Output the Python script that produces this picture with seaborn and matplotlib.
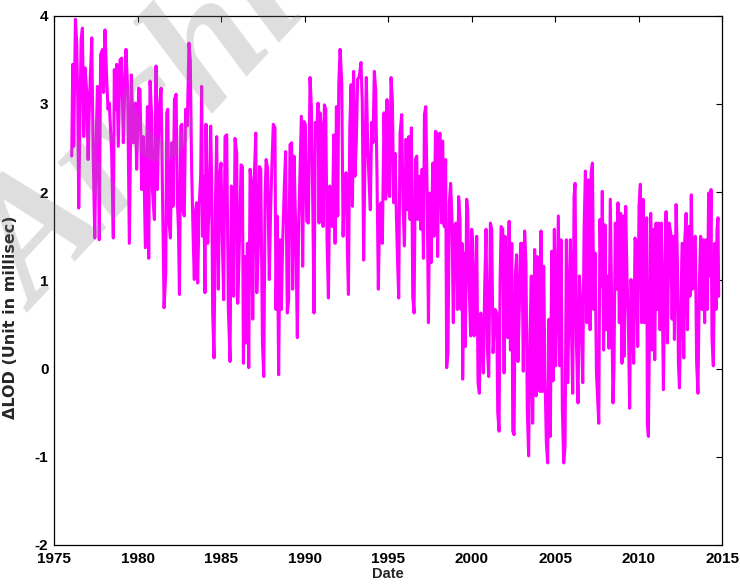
import numpy as np
import pandas as pd
import matplotlib
matplotlib.use("Agg")
import matplotlib.pyplot as plt
import seaborn as sns

# Length-of-day excess (ms), 1976-1985
years_a = [1976.06, 1976.12, 1976.18, 1976.28, 1976.36, 1976.42, 1976.48, 1976.56, 1976.62, 1976.70,
           1976.78, 1976.86, 1976.96, 1977.04, 1977.14, 1977.26, 1977.34, 1977.44, 1977.52, 1977.60,
           1977.66, 1977.71, 1977.79, 1977.91, 1977.97, 1978.05, 1978.15, 1978.23, 1978.31, 1978.45,
           1978.55, 1978.61, 1978.69, 1978.75, 1978.85, 1978.95, 1979.05, 1979.15, 1979.23, 1979.31,
           1979.41, 1979.51, 1979.63, 1979.75, 1979.87, 1979.95, 1980.07, 1980.15, 1980.25, 1980.35,
           1980.47, 1980.59, 1980.67,
           1980.75, 1980.85, 1980.89, 1981.01, 1981.11, 1981.19, 1981.29, 1981.41, 1981.49, 1981.59,
           1981.69, 1981.75, 1981.81, 1981.89, 1981.97, 1982.05, 1982.13, 1982.21, 1982.31, 1982.39,
           1982.45, 1982.51, 1982.59, 1982.65, 1982.72, 1982.80, 1982.88, 1982.98, 1983.08, 1983.16,
           1983.24, 1983.34, 1983.40, 1983.48, 1983.54, 1983.60, 1983.70, 1983.78, 1983.84, 1983.90,
           1983.96, 1984.04, 1984.10, 1984.20, 1984.28, 1984.38, 1984.44, 1984.50, 1984.58, 1984.66,
           1984.74, 1984.84, 1984.92, 1985.00, 1985.08, 1985.16, 1985.24, 1985.34, 1985.44, 1985.54,
           1985.62, 1985.70, 1985.76, 1985.84]
lod_a = [2.41, 3.45, 2.52, 3.96, 3.69, 3.07, 1.82, 2.94, 3.73, 3.86,
         2.63, 3.41, 3.13, 2.37, 3.13, 3.75, 2.48, 1.48, 2.56, 3.20,
         2.44, 1.46, 3.56, 3.62, 3.13, 3.84, 3.31, 2.94, 3.01, 2.44,
         1.48, 3.39, 2.94, 3.45, 2.52, 3.50, 3.52, 2.56, 3.13, 3.62,
         3.16, 1.42, 3.33, 2.56, 3.01, 2.26, 3.18, 3.16, 2.03, 2.63,
         1.37, 2.97, 1.25,
         3.26, 2.86, 2.03, 1.69, 3.43, 2.03, 2.94, 3.18, 2.10, 0.69,
         1.08, 2.90, 2.94, 1.65, 1.48, 2.56, 1.84, 3.05, 3.11, 1.88,
         1.58, 0.84, 2.75, 2.77, 1.80, 1.73, 2.94, 2.75, 3.69, 3.50,
         2.26, 1.42, 1.01, 1.80, 1.88, 0.97, 1.88, 2.18, 3.20, 1.50,
         2.18, 0.86, 2.77, 1.42, 1.80, 2.75, 2.14, 0.63, 0.12, 1.80,
         2.63, 0.90, 2.18, 2.33, 1.42, 0.78, 2.63, 2.65, 0.67, 0.08,
         2.07, 2.03, 0.82, 2.61]

# 1986-1995
years_b = [1985.94, 1986.00, 1986.10, 1986.20, 1986.28, 1986.34, 1986.42, 1986.50, 1986.58, 1986.66,
           1986.74, 1986.82, 1986.90, 1986.98, 1987.08, 1987.14, 1987.24, 1987.30, 1987.38, 1987.48,
           1987.56, 1987.64, 1987.70, 1987.79, 1987.89, 1987.97, 1988.05, 1988.13, 1988.23, 1988.29,
           1988.37, 1988.45, 1988.53, 1988.61, 1988.69, 1988.79, 1988.87, 1988.97, 1989.05, 1989.13,
           1989.23, 1989.29, 1989.37, 1989.47, 1989.57, 1989.65, 1989.73, 1989.81, 1989.89, 1989.97,
           1990.05, 1990.13, 1990.23, 1990.33, 1990.41, 1990.49, 1990.57, 1990.65, 1990.73, 1990.81,
           1990.87, 1990.93,
           1991.03, 1991.11, 1991.19, 1991.27, 1991.35, 1991.43, 1991.51, 1991.59, 1991.67, 1991.75,
           1991.83, 1991.91, 1991.99, 1992.05, 1992.13, 1992.23, 1992.31, 1992.39, 1992.49, 1992.57,
           1992.63, 1992.71, 1992.79, 1992.87, 1992.94, 1993.02, 1993.10, 1993.18, 1993.28, 1993.38,
           1993.46, 1993.54, 1993.62, 1993.70, 1993.78, 1993.86, 1993.94, 1994.02, 1994.10, 1994.18,
           1994.26, 1994.34, 1994.42, 1994.50, 1994.58, 1994.66, 1994.76, 1994.86, 1994.94, 1995.02,
           1995.10, 1995.18, 1995.26, 1995.34, 1995.42, 1995.50, 1995.58, 1995.64, 1995.72, 1995.82,
           1995.90, 1995.98]
lod_b = [2.44, 0.74, 1.42, 2.31, 2.29, 0.06, 1.27, 0.29, 1.42, 0.01,
         2.26, 2.10, 0.56, 2.10, 2.67, 0.86, 1.42, 2.29, 2.26, 0.29,
         -0.09, 1.97, 2.37, 2.27, 1.01, 1.80, 2.33, 2.77, 2.73, 0.67,
         1.73, -0.07, 1.46, 0.67, 1.42, 2.07, 2.46, 0.63, 0.78, 2.54,
         2.56, 0.90, 2.41, 1.61, 0.35, 1.61, 2.26, 2.86, 1.16, 2.80,
         2.77, 1.67, 1.65, 3.30, 2.97, 1.92, 0.63, 2.79, 2.71, 3.01,
         1.65, 2.90,
         2.71, 1.61, 2.99, 2.94, 1.44, 0.80, 2.07, 2.03, 1.61, 2.65,
         1.42, 2.97, 1.73, 3.22, 3.62, 3.24, 1.50, 2.18, 2.22, 1.31,
         0.84, 2.73, 3.22, 1.84, 3.37, 2.18, 2.56, 3.28, 3.31, 3.47,
         3.01, 1.23, 2.37, 3.30, 2.56, 2.14, 1.80, 2.79, 2.56, 3.37,
         3.16, 2.18, 0.90, 1.80, 1.88, 1.42, 2.90, 1.92, 3.05, 2.03,
         1.95, 3.30, 3.05, 1.88, 2.44, 1.73, 1.16, 0.80, 2.67, 2.88,
         1.84, 1.39]

# 1996-2006
years_c = [1996.08, 1996.16, 1996.24, 1996.32, 1996.40, 1996.48, 1996.56, 1996.64, 1996.72, 1996.78,
           1996.88, 1996.96, 1997.04, 1997.12, 1997.18, 1997.26, 1997.34, 1997.42, 1997.50, 1997.58,
           1997.68, 1997.76, 1997.84, 1997.92, 1997.97, 1998.05, 1998.11, 1998.21, 1998.27, 1998.37,
           1998.45, 1998.51, 1998.59, 1998.67, 1998.75, 1998.83, 1998.91, 1998.97, 1999.07, 1999.15,
           1999.23, 1999.31, 1999.37, 1999.43, 1999.47, 1999.55, 1999.63, 1999.71, 1999.77, 1999.85,
           1999.95, 2000.01, 2000.07, 2000.15, 2000.23, 2000.31, 2000.39, 2000.47, 2000.55, 2000.63,
           2000.71, 2000.79, 2000.87, 2000.95, 2001.03,
           2001.13, 2001.21, 2001.29, 2001.41, 2001.51, 2001.57, 2001.65, 2001.71, 2001.77, 2001.87,
           2001.95, 2002.01, 2002.11, 2002.17, 2002.25, 2002.33, 2002.41, 2002.47, 2002.55, 2002.62,
           2002.70, 2002.78, 2002.86, 2002.94, 2003.02, 2003.10, 2003.18, 2003.26, 2003.34, 2003.42,
           2003.50, 2003.58, 2003.66, 2003.72, 2003.78, 2003.86, 2003.94, 2004.02, 2004.10, 2004.16,
           2004.24, 2004.32, 2004.40, 2004.48, 2004.56, 2004.64, 2004.72, 2004.80, 2004.88, 2004.96,
           2005.04, 2005.12, 2005.20, 2005.28, 2005.36, 2005.44, 2005.52, 2005.60, 2005.68, 2005.76,
           2005.84, 2005.92, 2006.00, 2006.06, 2006.14, 2006.20]
lod_c = [2.60, 1.80, 2.63, 1.69, 2.73, 0.82, 0.63, 2.37, 2.41, 1.69,
         2.18, 1.58, 2.26, 1.25, 2.88, 2.97, 2.01, 0.52, 1.99, 1.20,
         2.33, 1.50, 2.69, 2.67, 1.27, 2.56, 2.67, 1.65, 2.58, 1.61,
         2.37, 0.01, 0.18, 1.88, 2.10, 1.69, 0.52, 1.61, 1.65, 0.67,
         1.95, 1.69, 0.67, 1.42, -0.12, 1.31, 0.25, 1.92, 1.80, 0.97,
         0.37, 1.58, 1.42, 0.37, 0.74, 1.50, -0.16, -0.28, 0.63, 0.37,
         -0.05, 0.95, 1.58, 0.23, -0.09,
         1.65, 1.58, 0.18, 0.67, 0.63, -0.50, -0.71, 0.97, 1.61, 1.58,
         -0.05, 1.50, 1.05, 0.35, 1.67, 0.21, 1.42, -0.71, -0.75, 1.05,
         1.29, 0.08, 0.67, 1.42, 1.42, -0.03, 1.56, 1.20, -0.47, -0.99,
         0.37, 1.05, -0.62, 0.29, 1.35, -0.31, 1.27, 0.21, -0.26, 1.56,
         -0.26, 1.16, -0.09, -0.84, -1.07, 0.56, -0.77, 1.33, -0.14, 1.58,
         0.03, 0.86, 1.73, 0.03, 1.46, -0.47, -1.07, -0.88, 1.46, -0.16,
         0.71, 1.46, 0.29, -0.28, 1.95, 2.10]

# 2006-2014
years_d = [2006.28, 2006.38, 2006.46, 2006.56, 2006.66, 2006.74, 2006.82, 2006.90, 2007.00, 2007.10,
           2007.16, 2007.24, 2007.32, 2007.40, 2007.48, 2007.56, 2007.62, 2007.69, 2007.77, 2007.83,
           2007.91, 2007.99, 2008.07, 2008.15, 2008.23, 2008.31, 2008.39, 2008.47, 2008.53, 2008.61,
           2008.69, 2008.77, 2008.85, 2008.93, 2009.01, 2009.09, 2009.15, 2009.23, 2009.31, 2009.39,
           2009.47, 2009.55, 2009.63, 2009.71, 2009.79, 2009.87, 2009.95, 2010.03, 2010.11, 2010.19,
           2010.27, 2010.35, 2010.41, 2010.49, 2010.53, 2010.59, 2010.65, 2010.73, 2010.81, 2010.89,
           2010.97, 2011.05, 2011.13, 2011.21, 2011.29,
           2011.37, 2011.49, 2011.57, 2011.65, 2011.73, 2011.83, 2011.93, 2012.01, 2012.09, 2012.15,
           2012.25, 2012.33, 2012.39, 2012.45, 2012.53, 2012.61, 2012.71, 2012.77, 2012.85, 2012.93,
           2013.00, 2013.08, 2013.16, 2013.24, 2013.32, 2013.40, 2013.48, 2013.56, 2013.64, 2013.72,
           2013.80, 2013.88, 2013.96, 2014.04, 2014.12, 2014.20, 2014.28, 2014.34, 2014.40, 2014.48,
           2014.56, 2014.64, 2014.70, 2014.76, 2014.80]
lod_d = [0.29, -0.39, 1.05, 0.67, -0.16, 1.58, 2.24, 0.52, 2.14, 0.44,
         2.22, 2.33, 0.67, 1.31, -0.05, -0.39, -0.62, 1.69, 0.93, 2.01,
         0.21, 1.63, 0.44, 1.05, 0.23, 1.92, 0.78, -0.39, -0.01, 1.65,
         0.90, 1.88, 0.52, 1.76, 0.06, 1.73, 0.14, 1.84, 1.05, 0.52,
         -0.45, 1.01, 0.59, 0.06, 1.48, 1.42, 0.25, 1.84, 2.09, 0.52,
         1.92, 0.52, 1.23, 1.71, -0.62, -0.77, 0.29, 1.76, 0.21, 1.58,
         0.10, 1.65, 0.67, 1.65, 0.44,
         1.65, -0.24, 1.05, 1.78, 0.29, 1.65, 1.54, 0.56, 1.50, 0.33,
         1.86, 1.23, 0.06, -0.22, 0.61, 1.42, 0.12, 1.46, 1.76, 0.44,
         1.61, 0.82, 1.97, 0.90, 1.42, 1.50, 0.06, -0.28, 0.93, 1.50,
         0.67, 1.46, 0.52, 1.46, 0.67, 1.99, 1.05, 2.03, 0.33, 0.03,
         1.42, 0.67, 1.58, 1.71, 0.82]

x_ticks = [1975, 1980, 1985, 1990, 1995, 2000, 2005, 2010, 2015]
y_ticks = [-2, -1, 0, 1, 2, 3, 4]

df = pd.DataFrame({
    "Date": years_a + years_b + years_c + years_d,
    "LOD": lod_a + lod_b + lod_c + lod_d,
})

sns.set_style("white")
plt.rcParams["font.family"] = ["Liberation Sans", "DejaVu Sans"]
plt.rcParams["font.weight"] = "bold"

fig = plt.figure(figsize=(7.4, 5.84), dpi=100)
ax = fig.add_axes([0.073, 0.0668, 0.9027, 0.9062])

sns.lineplot(data=df, x="Date", y="LOD", ax=ax, color="#ff00ff",
             linewidth=2.2, sort=False, estimator=None)

ax.set_xlim(1975, 2015)
ax.set_ylim(-2, 4)
ax.set_xticks(x_ticks)
ax.set_yticks(y_ticks)
ax.set_xticklabels([str(t) for t in x_ticks], fontsize=11, fontweight="bold")
ax.set_yticklabels([str(t) for t in y_ticks], fontsize=11, fontweight="bold")
ax.tick_params(direction="in", length=4, width=0.8, top=True, right=True,
               colors="black")
ax.tick_params(axis="x", pad=5)
ax.tick_params(axis="y", pad=4)
for s in ax.spines.values():
    s.set_color("black")
    s.set_linewidth(0.9)

ax.set_xlabel("Date", fontsize=10.5, fontweight="bold", labelpad=1)
ax.set_ylabel("\u0394LOD (Unit in millisec)", fontsize=11.5, fontweight="bold",
              family=["DejaVu Sans"])
ax.yaxis.set_label_coords(-0.054, 0.43)

# faint repository stamp across the upper left
fig.text(0.05, 0.465, "Archive", rotation=47, rotation_mode="anchor",
         ha="left", va="baseline", fontsize=125, family="Liberation Serif",
         style="italic", weight="bold", color="0.5", alpha=0.26, zorder=10)

fig.savefig("out.png", dpi=100)
